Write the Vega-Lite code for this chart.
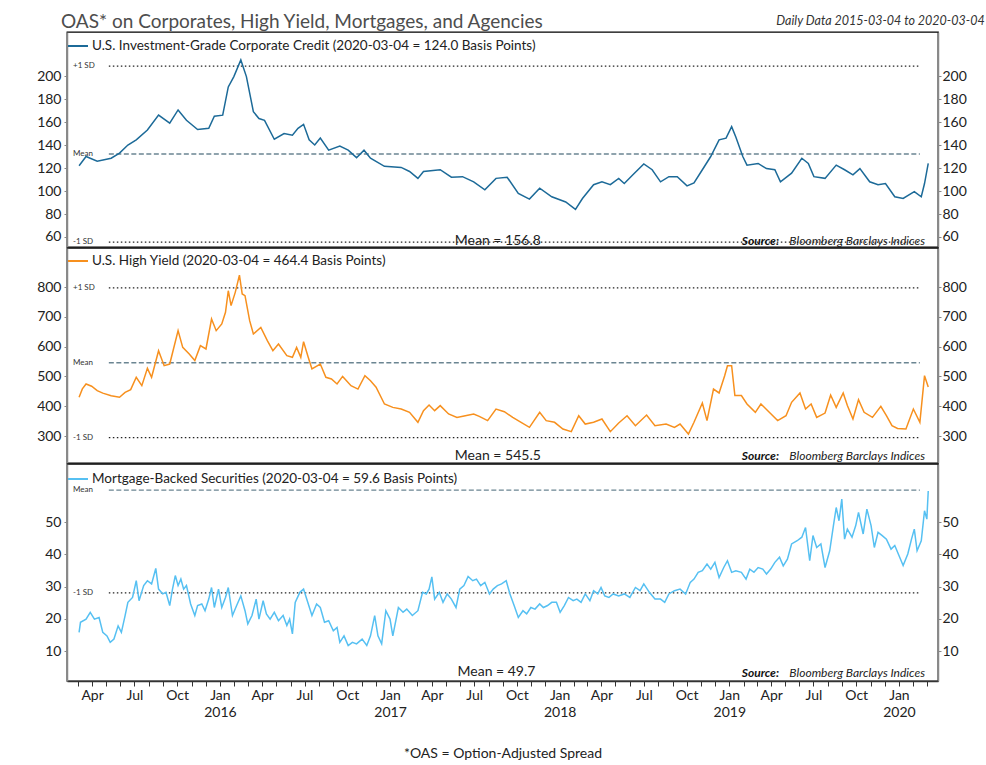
{
"$schema": "https://vega.github.io/schema/vega-lite/v6.json",
"background": "white",
"padding": {"left": 14, "top": 12, "right": 4, "bottom": 2},
"title": {"text": "Daily Data 2015-03-04 to 2020-03-04", "anchor": "end", "fontStyle": "italic", "fontSize": 12.5, "fontWeight": "normal", "font": "Lato", "color": "#333333", "offset": -15, "dx": 1},
"spacing": 1,
"bounds": "flush",
"resolve": {"scale": {"x": "independent", "y": "independent", "color": "independent"}, "legend": {"color": "independent"}},
"datasets": {
"ig": [{"date":"2015-03-04","value":122},{"date":"2015-03-19","value":130},{"date":"2015-04-12","value":126},{"date":"2015-05-12","value":128.5},{"date":"2015-05-30","value":133},{"date":"2015-06-17","value":140},{"date":"2015-07-05","value":144.5},{"date":"2015-07-29","value":153},{"date":"2015-08-22","value":166},{"date":"2015-09-15","value":159},{"date":"2015-10-03","value":170.5},{"date":"2015-10-21","value":161.5},{"date":"2015-11-14","value":153.5},{"date":"2015-12-08","value":154.5},{"date":"2015-12-20","value":165},{"date":"2016-01-07","value":166},{"date":"2016-01-19","value":190.5},{"date":"2016-01-31","value":199.5},{"date":"2016-02-15","value":214},{"date":"2016-02-27","value":199.5},{"date":"2016-03-13","value":169},{"date":"2016-03-25","value":163},{"date":"2016-04-06","value":161.5},{"date":"2016-04-27","value":145},{"date":"2016-05-18","value":150},{"date":"2016-06-05","value":148.5},{"date":"2016-06-17","value":154.5},{"date":"2016-06-29","value":158},{"date":"2016-07-11","value":144.5},{"date":"2016-07-23","value":140},{"date":"2016-08-04","value":146},{"date":"2016-08-22","value":135.5},{"date":"2016-09-15","value":139},{"date":"2016-10-03","value":135.5},{"date":"2016-10-21","value":129},{"date":"2016-11-06","value":135.5},{"date":"2016-11-20","value":128.5},{"date":"2016-12-20","value":121.5},{"date":"2017-01-25","value":120.5},{"date":"2017-02-12","value":117},{"date":"2017-03-02","value":111},{"date":"2017-03-14","value":117},{"date":"2017-04-19","value":118.5},{"date":"2017-05-13","value":112},{"date":"2017-06-06","value":112.5},{"date":"2017-06-30","value":108},{"date":"2017-07-24","value":101},{"date":"2017-08-17","value":111},{"date":"2017-09-10","value":112},{"date":"2017-10-04","value":98},{"date":"2017-10-28","value":93},{"date":"2017-11-19","value":102.5},{"date":"2017-12-15","value":95},{"date":"2018-01-14","value":90.5},{"date":"2018-02-04","value":84},{"date":"2018-02-19","value":93.5},{"date":"2018-03-15","value":105.5},{"date":"2018-04-02","value":108},{"date":"2018-04-20","value":105.5},{"date":"2018-05-08","value":111},{"date":"2018-05-20","value":106.5},{"date":"2018-06-07","value":114},{"date":"2018-07-01","value":123.5},{"date":"2018-07-19","value":118.5},{"date":"2018-08-06","value":108},{"date":"2018-08-24","value":112.5},{"date":"2018-09-11","value":112.5},{"date":"2018-10-02","value":104.5},{"date":"2018-10-17","value":107},{"date":"2018-11-04","value":118.5},{"date":"2018-11-22","value":130},{"date":"2018-12-10","value":144.5},{"date":"2018-12-25","value":146},{"date":"2019-01-06","value":156},{"date":"2019-01-15","value":147},{"date":"2019-01-30","value":130},{"date":"2019-02-08","value":122.5},{"date":"2019-03-04","value":124},{"date":"2019-03-22","value":119.5},{"date":"2019-04-09","value":118.5},{"date":"2019-04-21","value":108},{"date":"2019-05-15","value":115.5},{"date":"2019-06-06","value":128.5},{"date":"2019-06-20","value":124},{"date":"2019-07-02","value":112.5},{"date":"2019-07-26","value":111},{"date":"2019-08-19","value":122.5},{"date":"2019-09-06","value":118.5},{"date":"2019-09-24","value":114},{"date":"2019-10-09","value":119.5},{"date":"2019-10-30","value":108},{"date":"2019-11-17","value":105.5},{"date":"2019-12-03","value":106.5},{"date":"2019-12-23","value":95},{"date":"2020-01-10","value":93.5},{"date":"2020-02-03","value":99.5},{"date":"2020-02-18","value":95},{"date":"2020-02-25","value":106.5},{"date":"2020-03-04","value":124}],
"hy": [{"date":"2015-03-04","value":430},{"date":"2015-03-11","value":458},{"date":"2015-03-19","value":474.5},{"date":"2015-03-31","value":467},{"date":"2015-04-12","value":452},{"date":"2015-04-24","value":444},{"date":"2015-05-12","value":435},{"date":"2015-05-30","value":430},{"date":"2015-06-11","value":446.5},{"date":"2015-06-23","value":455.5},{"date":"2015-07-05","value":497},{"date":"2015-07-17","value":469},{"date":"2015-07-29","value":527},{"date":"2015-08-07","value":497},{"date":"2015-08-22","value":586},{"date":"2015-09-03","value":536},{"date":"2015-09-15","value":541.5},{"date":"2015-10-03","value":653.5},{"date":"2015-10-13","value":597.5},{"date":"2015-10-27","value":575},{"date":"2015-11-08","value":553},{"date":"2015-11-20","value":603},{"date":"2015-12-02","value":592},{"date":"2015-12-14","value":692.5},{"date":"2015-12-24","value":653.5},{"date":"2016-01-05","value":676},{"date":"2016-01-13","value":715},{"date":"2016-01-19","value":787.5},{"date":"2016-01-25","value":737.5},{"date":"2016-02-03","value":782},{"date":"2016-02-12","value":840},{"date":"2016-02-18","value":776.5},{"date":"2016-02-24","value":771},{"date":"2016-03-05","value":687},{"date":"2016-03-13","value":642.5},{"date":"2016-03-29","value":664.5},{"date":"2016-04-12","value":620},{"date":"2016-04-24","value":586.5},{"date":"2016-05-06","value":608.5},{"date":"2016-05-24","value":569.5},{"date":"2016-06-05","value":564},{"date":"2016-06-14","value":597.5},{"date":"2016-06-23","value":564},{"date":"2016-06-29","value":616.5},{"date":"2016-07-09","value":564},{"date":"2016-07-17","value":525},{"date":"2016-08-04","value":541.5},{"date":"2016-08-16","value":497},{"date":"2016-08-28","value":491.5},{"date":"2016-09-09","value":474.5},{"date":"2016-09-21","value":500},{"date":"2016-10-09","value":469},{"date":"2016-10-24","value":457.5},{"date":"2016-11-08","value":502.5},{"date":"2016-11-20","value":485.5},{"date":"2016-12-02","value":463.5},{"date":"2016-12-20","value":407.5},{"date":"2017-01-07","value":396},{"date":"2017-01-25","value":390.5},{"date":"2017-02-12","value":379.5},{"date":"2017-03-02","value":346},{"date":"2017-03-14","value":385},{"date":"2017-03-26","value":404},{"date":"2017-04-07","value":385},{"date":"2017-04-19","value":402},{"date":"2017-05-07","value":374},{"date":"2017-05-25","value":362.5},{"date":"2017-06-12","value":368},{"date":"2017-06-30","value":374},{"date":"2017-07-12","value":366},{"date":"2017-07-30","value":351.5},{"date":"2017-08-17","value":390.5},{"date":"2017-09-04","value":381.5},{"date":"2017-09-22","value":362.5},{"date":"2017-10-10","value":346},{"date":"2017-10-28","value":329},{"date":"2017-11-19","value":379.5},{"date":"2017-12-03","value":351.5},{"date":"2017-12-21","value":346},{"date":"2018-01-08","value":323.5},{"date":"2018-01-26","value":314.5},{"date":"2018-02-11","value":368},{"date":"2018-02-25","value":340},{"date":"2018-03-15","value":346},{"date":"2018-04-02","value":357},{"date":"2018-04-20","value":314.5},{"date":"2018-05-08","value":343.5},{"date":"2018-05-26","value":368},{"date":"2018-06-13","value":334.5},{"date":"2018-07-07","value":370.5},{"date":"2018-07-25","value":334.5},{"date":"2018-08-18","value":340},{"date":"2018-09-05","value":329},{"date":"2018-09-17","value":340},{"date":"2018-10-05","value":306.5},{"date":"2018-10-17","value":346},{"date":"2018-11-04","value":410.5},{"date":"2018-11-14","value":351.5},{"date":"2018-11-28","value":457.5},{"date":"2018-12-10","value":444.5},{"date":"2018-12-22","value":502.5},{"date":"2018-12-28","value":536},{"date":"2019-01-06","value":536},{"date":"2019-01-13","value":435.5},{"date":"2019-01-27","value":435.5},{"date":"2019-02-08","value":407.5},{"date":"2019-02-26","value":379.5},{"date":"2019-03-10","value":407.5},{"date":"2019-03-28","value":379.5},{"date":"2019-04-15","value":351.5},{"date":"2019-05-03","value":368},{"date":"2019-05-15","value":413},{"date":"2019-06-02","value":444.5},{"date":"2019-06-14","value":390.5},{"date":"2019-06-26","value":407.5},{"date":"2019-07-08","value":362.5},{"date":"2019-07-26","value":377},{"date":"2019-08-07","value":437.5},{"date":"2019-08-19","value":396},{"date":"2019-09-03","value":444.5},{"date":"2019-09-12","value":402},{"date":"2019-09-24","value":357},{"date":"2019-10-06","value":422},{"date":"2019-10-18","value":379.5},{"date":"2019-11-05","value":362.5},{"date":"2019-11-23","value":399.5},{"date":"2019-12-05","value":368},{"date":"2019-12-17","value":334.5},{"date":"2019-12-29","value":325.5},{"date":"2020-01-16","value":323.5},{"date":"2020-02-01","value":390.5},{"date":"2020-02-15","value":346},{"date":"2020-02-25","value":502.5},{"date":"2020-03-04","value":464.4}],
"mbs": [{"date":"2015-03-04","value":15.8},{"date":"2015-03-07","value":18.9},{"date":"2015-03-19","value":19.9},{"date":"2015-03-28","value":22},{"date":"2015-04-06","value":19.9},{"date":"2015-04-16","value":20.4},{"date":"2015-04-24","value":15.8},{"date":"2015-05-03","value":14.7},{"date":"2015-05-10","value":12.7},{"date":"2015-05-18","value":13.7},{"date":"2015-05-27","value":17.8},{"date":"2015-06-03","value":15.8},{"date":"2015-06-11","value":21},{"date":"2015-06-17","value":25.1},{"date":"2015-06-27","value":26.6},{"date":"2015-07-05","value":31.8},{"date":"2015-07-11","value":25.6},{"date":"2015-07-21","value":30.3},{"date":"2015-07-29","value":31.8},{"date":"2015-08-07","value":30.8},{"date":"2015-08-16","value":35.6},{"date":"2015-08-22","value":29.2},{"date":"2015-08-31","value":27.7},{"date":"2015-09-07","value":28.2},{"date":"2015-09-15","value":24.1},{"date":"2015-09-21","value":29.2},{"date":"2015-09-27","value":33.4},{"date":"2015-10-03","value":30.3},{"date":"2015-10-09","value":32.3},{"date":"2015-10-15","value":29.2},{"date":"2015-10-21","value":30.3},{"date":"2015-10-30","value":24.6},{"date":"2015-11-08","value":21},{"date":"2015-11-14","value":24.1},{"date":"2015-11-23","value":24.6},{"date":"2015-11-30","value":22.5},{"date":"2015-12-08","value":26.1},{"date":"2015-12-14","value":29.7},{"date":"2015-12-20","value":23.5},{"date":"2015-12-29","value":29.2},{"date":"2016-01-05","value":23.5},{"date":"2016-01-13","value":26.6},{"date":"2016-01-19","value":29.7},{"date":"2016-01-28","value":21},{"date":"2016-02-06","value":24.1},{"date":"2016-02-15","value":27.1},{"date":"2016-02-24","value":22.5},{"date":"2016-03-01","value":18.4},{"date":"2016-03-10","value":21},{"date":"2016-03-19","value":26.1},{"date":"2016-03-25","value":19.9},{"date":"2016-04-03","value":25.6},{"date":"2016-04-10","value":21.5},{"date":"2016-04-18","value":19.9},{"date":"2016-04-27","value":22},{"date":"2016-05-06","value":19.4},{"date":"2016-05-16","value":21},{"date":"2016-05-24","value":17.9},{"date":"2016-05-30","value":19.9},{"date":"2016-06-05","value":15.3},{"date":"2016-06-11","value":25.1},{"date":"2016-06-21","value":28.2},{"date":"2016-06-29","value":29.2},{"date":"2016-07-08","value":25.1},{"date":"2016-07-17","value":21},{"date":"2016-07-27","value":24.6},{"date":"2016-08-04","value":23.5},{"date":"2016-08-13","value":18.9},{"date":"2016-08-22","value":19.4},{"date":"2016-09-01","value":16.3},{"date":"2016-09-09","value":17.3},{"date":"2016-09-15","value":12.7},{"date":"2016-09-24","value":14.7},{"date":"2016-10-03","value":11.7},{"date":"2016-10-12","value":12.7},{"date":"2016-10-21","value":12.2},{"date":"2016-11-02","value":13.7},{"date":"2016-11-12","value":11.7},{"date":"2016-11-20","value":14.7},{"date":"2016-11-29","value":21},{"date":"2016-12-06","value":14.7},{"date":"2016-12-14","value":12.2},{"date":"2016-12-23","value":22.5},{"date":"2017-01-01","value":19.9},{"date":"2017-01-07","value":14.7},{"date":"2017-01-19","value":23.5},{"date":"2017-01-29","value":22},{"date":"2017-02-06","value":23},{"date":"2017-02-18","value":21},{"date":"2017-03-02","value":22.5},{"date":"2017-03-12","value":28.2},{"date":"2017-03-20","value":27.7},{"date":"2017-03-26","value":29.2},{"date":"2017-04-01","value":33},{"date":"2017-04-07","value":26.1},{"date":"2017-04-17","value":28.2},{"date":"2017-04-25","value":25.1},{"date":"2017-05-04","value":27.7},{"date":"2017-05-13","value":26.1},{"date":"2017-05-23","value":23.5},{"date":"2017-05-31","value":29.2},{"date":"2017-06-09","value":30.3},{"date":"2017-06-18","value":33.1},{"date":"2017-06-28","value":31.8},{"date":"2017-07-06","value":32.3},{"date":"2017-07-15","value":30.3},{"date":"2017-07-24","value":31.3},{"date":"2017-08-03","value":27.7},{"date":"2017-08-11","value":29.2},{"date":"2017-08-20","value":30.3},{"date":"2017-08-29","value":30.8},{"date":"2017-09-08","value":31.8},{"date":"2017-09-16","value":27.7},{"date":"2017-09-25","value":24.1},{"date":"2017-10-04","value":20.4},{"date":"2017-10-14","value":22.5},{"date":"2017-10-22","value":21.5},{"date":"2017-10-31","value":23.5},{"date":"2017-11-09","value":23},{"date":"2017-11-19","value":24.6},{"date":"2017-11-27","value":23.5},{"date":"2017-12-06","value":24.1},{"date":"2017-12-15","value":25.1},{"date":"2017-12-25","value":25.1},{"date":"2018-01-02","value":22},{"date":"2018-01-11","value":24.1},{"date":"2018-01-20","value":26.6},{"date":"2018-01-30","value":25.6},{"date":"2018-02-07","value":26.1},{"date":"2018-02-16","value":25.1},{"date":"2018-02-25","value":27.7},{"date":"2018-03-07","value":25.6},{"date":"2018-03-15","value":28.7},{"date":"2018-03-24","value":27.7},{"date":"2018-03-31","value":29.7},{"date":"2018-04-08","value":27.1},{"date":"2018-04-17","value":26.6},{"date":"2018-04-26","value":27.7},{"date":"2018-05-08","value":27.1},{"date":"2018-05-20","value":27.7},{"date":"2018-06-01","value":26.6},{"date":"2018-06-13","value":29.7},{"date":"2018-06-23","value":28.7},{"date":"2018-07-01","value":30.8},{"date":"2018-07-13","value":28.2},{"date":"2018-07-25","value":26.1},{"date":"2018-08-06","value":26.1},{"date":"2018-08-15","value":25.1},{"date":"2018-08-24","value":27.7},{"date":"2018-09-05","value":28.7},{"date":"2018-09-17","value":29.2},{"date":"2018-09-29","value":27.7},{"date":"2018-10-09","value":31.3},{"date":"2018-10-17","value":32.3},{"date":"2018-10-26","value":34.4},{"date":"2018-11-04","value":34.9},{"date":"2018-11-14","value":37},{"date":"2018-11-22","value":35.4},{"date":"2018-12-01","value":37.5},{"date":"2018-12-10","value":32.8},{"date":"2018-12-20","value":35.9},{"date":"2018-12-28","value":38},{"date":"2019-01-06","value":34.4},{"date":"2019-01-15","value":34.9},{"date":"2019-01-27","value":34.4},{"date":"2019-02-06","value":32.3},{"date":"2019-02-14","value":35.4},{"date":"2019-02-23","value":34.4},{"date":"2019-03-04","value":35.9},{"date":"2019-03-14","value":35.4},{"date":"2019-03-22","value":33.9},{"date":"2019-03-31","value":35.4},{"date":"2019-04-09","value":37.5},{"date":"2019-04-19","value":39.1},{"date":"2019-04-27","value":36.4},{"date":"2019-05-06","value":38.5},{"date":"2019-05-15","value":43.2},{"date":"2019-05-27","value":44.2},{"date":"2019-06-06","value":45.3},{"date":"2019-06-14","value":48.3},{"date":"2019-06-23","value":38},{"date":"2019-06-30","value":45.8},{"date":"2019-07-08","value":42.1},{"date":"2019-07-17","value":43.2},{"date":"2019-07-26","value":35.9},{"date":"2019-08-05","value":41.1},{"date":"2019-08-13","value":48.9},{"date":"2019-08-19","value":54.5},{"date":"2019-08-25","value":50.4},{"date":"2019-08-31","value":57.1},{"date":"2019-09-06","value":44.7},{"date":"2019-09-12","value":47.8},{"date":"2019-09-22","value":45.3},{"date":"2019-09-30","value":48.9},{"date":"2019-10-06","value":53},{"date":"2019-10-16","value":46.3},{"date":"2019-10-24","value":54},{"date":"2019-11-02","value":48.9},{"date":"2019-11-09","value":42.1},{"date":"2019-11-17","value":46.8},{"date":"2019-11-26","value":45.8},{"date":"2019-12-05","value":44.7},{"date":"2019-12-15","value":41.6},{"date":"2019-12-23","value":42.7},{"date":"2020-01-01","value":39.6},{"date":"2020-01-10","value":36.5},{"date":"2020-01-20","value":40.1},{"date":"2020-01-28","value":44.7},{"date":"2020-02-03","value":47.8},{"date":"2020-02-09","value":41.1},{"date":"2020-02-18","value":44.2},{"date":"2020-02-25","value":53.5},{"date":"2020-03-01","value":50.9},{"date":"2020-03-04","value":59.6}],
"ig_refs": [{"label":"+1 SD","value":208.7,"kind":"sd"},{"label":"Mean","value":132.2,"kind":"mean"},{"label":"-1 SD","value":55.6,"kind":"sd"}],
"hy_refs": [{"label":"+1 SD","value":797,"kind":"sd"},{"label":"Mean","value":546,"kind":"mean"},{"label":"-1 SD","value":294.5,"kind":"sd"}],
"mbs_refs": [{"label":"Mean","value":59.9,"kind":"mean"},{"label":"-1 SD","value":28,"kind":"sd"}]
},
"vconcat": [
{
"width": 871, "height": 215,
"title": {"text": "OAS* on Corporates, High Yield, Mortgages, and Agencies", "anchor": "start", "frame": "group", "fontSize": 19, "font": "Lato", "fontWeight": "normal", "color": "#4d4d4d", "offset": 0, "dx": -6},
"layer": [
{"layer": [
{"data": {"name": "ig_refs"}, "transform": [{"filter": "datum.kind == 'sd'"}], "mark": {"type": "rule", "color": "#222222", "strokeWidth": 1.2, "strokeDash": [1.5, 2.5]}, "encoding": {"x": {"datum": {"year": 2015, "month": 5, "date": 7}, "type": "temporal", "scale": {"domain": [{"year": 2015, "month": 2, "date": 6}, {"year": 2020, "month": 3, "date": 25}]}, "axis": null}, "x2": {"datum": {"year": 2020, "month": 2, "date": 15}}, "y": {"field": "value", "type": "quantitative", "scale": {"domain": [51.3, 238.3], "nice": false, "zero": false}, "axis": {"orient": "left", "title": null, "values": [60, 80, 100, 120, 140, 160, 180, 200], "tickSize": 3, "labelPadding": 3, "labelOverlap": false, "minExtent": 52, "maxExtent": 52}}}},
{"data": {"name": "ig_refs"}, "transform": [{"filter": "datum.kind == 'mean'"}], "mark": {"type": "rule", "color": "#6b8592", "strokeWidth": 1.4, "strokeDash": [5, 2.5]}, "encoding": {"x": {"datum": {"year": 2015, "month": 5, "date": 7}, "type": "temporal", "scale": {"domain": [{"year": 2015, "month": 2, "date": 6}, {"year": 2020, "month": 3, "date": 25}]}, "axis": null}, "x2": {"datum": {"year": 2020, "month": 2, "date": 15}}, "y": {"field": "value", "type": "quantitative", "scale": {"domain": [51.3, 238.3], "nice": false, "zero": false}, "axis": {"orient": "left", "title": null, "values": [60, 80, 100, 120, 140, 160, 180, 200], "tickSize": 3, "labelPadding": 3, "labelOverlap": false, "minExtent": 52, "maxExtent": 52}}}},
{"data": {"name": "ig_refs"}, "mark": {"type": "text", "align": "left", "baseline": "middle", "fontSize": 8, "font": "Lato", "color": "#333333"}, "encoding": {"x": {"datum": {"year": 2015, "month": 2, "date": 19}, "type": "temporal", "scale": {"domain": [{"year": 2015, "month": 2, "date": 6}, {"year": 2020, "month": 3, "date": 25}]}, "axis": null}, "y": {"field": "value", "type": "quantitative", "scale": {"domain": [51.3, 238.3], "nice": false, "zero": false}, "axis": {"orient": "left", "title": null, "values": [60, 80, 100, 120, 140, 160, 180, 200], "tickSize": 3, "labelPadding": 3, "labelOverlap": false, "minExtent": 52, "maxExtent": 52}}, "text": {"field": "label"}}},
{"data": {"values": [{"note": "Mean = 156.8"}]}, "mark": {"type": "text", "align": "center", "baseline": "middle", "fontSize": 14, "font": "Lato", "color": "#222222"}, "encoding": {"x": {"datum": {"year": 2017, "month": 8, "date": 21}, "type": "temporal", "scale": {"domain": [{"year": 2015, "month": 2, "date": 6}, {"year": 2020, "month": 3, "date": 25}]}, "axis": null}, "y": {"datum": 56.5, "type": "quantitative", "scale": {"domain": [51.3, 238.3], "nice": false, "zero": false}, "axis": {"orient": "left", "title": null, "values": [60, 80, 100, 120, 140, 160, 180, 200], "tickSize": 3, "labelPadding": 3, "labelOverlap": false, "minExtent": 52, "maxExtent": 52}}, "text": {"field": "note"}}},
{"data": {"values": [{"note": "Source:"}]}, "mark": {"type": "text", "align": "right", "baseline": "middle", "fontSize": 12, "font": "Lato", "fontStyle": "italic", "fontWeight": "bold", "color": "#111111"}, "encoding": {"x": {"datum": {"year": 2019, "month": 4, "date": 18}, "type": "temporal", "scale": {"domain": [{"year": 2015, "month": 2, "date": 6}, {"year": 2020, "month": 3, "date": 25}]}, "axis": null}, "y": {"datum": 56.5, "type": "quantitative", "scale": {"domain": [51.3, 238.3], "nice": false, "zero": false}, "axis": {"orient": "left", "title": null, "values": [60, 80, 100, 120, 140, 160, 180, 200], "tickSize": 3, "labelPadding": 3, "labelOverlap": false, "minExtent": 52, "maxExtent": 52}}, "text": {"field": "note"}}},
{"data": {"values": [{"note": "Bloomberg Barclays Indices"}]}, "mark": {"type": "text", "align": "right", "baseline": "middle", "fontSize": 12, "font": "Lato", "fontStyle": "italic", "color": "#222222"}, "encoding": {"x": {"datum": {"year": 2020, "month": 2, "date": 26}, "type": "temporal", "scale": {"domain": [{"year": 2015, "month": 2, "date": 6}, {"year": 2020, "month": 3, "date": 25}]}, "axis": null}, "y": {"datum": 56.5, "type": "quantitative", "scale": {"domain": [51.3, 238.3], "nice": false, "zero": false}, "axis": {"orient": "left", "title": null, "values": [60, 80, 100, 120, 140, 160, 180, 200], "tickSize": 3, "labelPadding": 3, "labelOverlap": false, "minExtent": 52, "maxExtent": 52}}, "text": {"field": "note"}}}
]},
{"data": {"name": "ig"}, "mark": {"type": "line", "strokeWidth": 1.5}, "encoding": {"x": {"field": "date", "type": "temporal", "scale": {"domain": [{"year": 2015, "month": 2, "date": 6}, {"year": 2020, "month": 3, "date": 25}]}, "axis": null}, "y": {"field": "value", "type": "quantitative", "scale": {"domain": [51.3, 238.3], "nice": false, "zero": false}, "axis": {"orient": "right", "title": null, "values": [60, 80, 100, 120, 140, 160, 180, 200], "tickSize": 3, "labelPadding": 1, "labelOverlap": false, "minExtent": 45, "maxExtent": 45}}, "color": {"datum": "U.S. Investment-Grade Corporate Credit (2020-03-04 = 124.0 Basis Points)", "type": "nominal", "scale": {"range": ["#1c6a98"]}, "legend": {"orient": "none", "legendX": 0, "legendY": 3, "title": null, "padding": 0, "symbolType": "stroke", "symbolSize": 400, "symbolStrokeWidth": 2, "labelFontSize": 13.5, "labelFont": "Lato", "labelColor": "#222222", "labelLimit": 800, "labelOffset": 3}}}}
],
"resolve": {"scale": {"y": "independent"}}
},
{
"width": 871, "height": 215,
"layer": [
{"layer": [
{"data": {"name": "hy_refs"}, "transform": [{"filter": "datum.kind == 'sd'"}], "mark": {"type": "rule", "color": "#222222", "strokeWidth": 1.2, "strokeDash": [1.5, 2.5]}, "encoding": {"x": {"datum": {"year": 2015, "month": 5, "date": 7}, "type": "temporal", "scale": {"domain": [{"year": 2015, "month": 2, "date": 6}, {"year": 2020, "month": 3, "date": 25}]}, "axis": null}, "x2": {"datum": {"year": 2020, "month": 2, "date": 15}}, "y": {"field": "value", "type": "quantitative", "scale": {"domain": [209.4, 930.9], "nice": false, "zero": false}, "axis": {"orient": "left", "title": null, "values": [300, 400, 500, 600, 700, 800], "tickSize": 3, "labelPadding": 3, "labelOverlap": false, "minExtent": 52, "maxExtent": 52}}}},
{"data": {"name": "hy_refs"}, "transform": [{"filter": "datum.kind == 'mean'"}], "mark": {"type": "rule", "color": "#6b8592", "strokeWidth": 1.4, "strokeDash": [5, 2.5]}, "encoding": {"x": {"datum": {"year": 2015, "month": 5, "date": 7}, "type": "temporal", "scale": {"domain": [{"year": 2015, "month": 2, "date": 6}, {"year": 2020, "month": 3, "date": 25}]}, "axis": null}, "x2": {"datum": {"year": 2020, "month": 2, "date": 15}}, "y": {"field": "value", "type": "quantitative", "scale": {"domain": [209.4, 930.9], "nice": false, "zero": false}, "axis": {"orient": "left", "title": null, "values": [300, 400, 500, 600, 700, 800], "tickSize": 3, "labelPadding": 3, "labelOverlap": false, "minExtent": 52, "maxExtent": 52}}}},
{"data": {"name": "hy_refs"}, "mark": {"type": "text", "align": "left", "baseline": "middle", "fontSize": 8, "font": "Lato", "color": "#333333"}, "encoding": {"x": {"datum": {"year": 2015, "month": 2, "date": 19}, "type": "temporal", "scale": {"domain": [{"year": 2015, "month": 2, "date": 6}, {"year": 2020, "month": 3, "date": 25}]}, "axis": null}, "y": {"field": "value", "type": "quantitative", "scale": {"domain": [209.4, 930.9], "nice": false, "zero": false}, "axis": {"orient": "left", "title": null, "values": [300, 400, 500, 600, 700, 800], "tickSize": 3, "labelPadding": 3, "labelOverlap": false, "minExtent": 52, "maxExtent": 52}}, "text": {"field": "label"}}},
{"data": {"values": [{"note": "Mean = 545.5"}]}, "mark": {"type": "text", "align": "center", "baseline": "middle", "fontSize": 14, "font": "Lato", "color": "#222222"}, "encoding": {"x": {"datum": {"year": 2017, "month": 8, "date": 21}, "type": "temporal", "scale": {"domain": [{"year": 2015, "month": 2, "date": 6}, {"year": 2020, "month": 3, "date": 25}]}, "axis": null}, "y": {"datum": 232.5, "type": "quantitative", "scale": {"domain": [209.4, 930.9], "nice": false, "zero": false}, "axis": {"orient": "left", "title": null, "values": [300, 400, 500, 600, 700, 800], "tickSize": 3, "labelPadding": 3, "labelOverlap": false, "minExtent": 52, "maxExtent": 52}}, "text": {"field": "note"}}},
{"data": {"values": [{"note": "Source:"}]}, "mark": {"type": "text", "align": "right", "baseline": "middle", "fontSize": 12, "font": "Lato", "fontStyle": "italic", "fontWeight": "bold", "color": "#111111"}, "encoding": {"x": {"datum": {"year": 2019, "month": 4, "date": 18}, "type": "temporal", "scale": {"domain": [{"year": 2015, "month": 2, "date": 6}, {"year": 2020, "month": 3, "date": 25}]}, "axis": null}, "y": {"datum": 232.5, "type": "quantitative", "scale": {"domain": [209.4, 930.9], "nice": false, "zero": false}, "axis": {"orient": "left", "title": null, "values": [300, 400, 500, 600, 700, 800], "tickSize": 3, "labelPadding": 3, "labelOverlap": false, "minExtent": 52, "maxExtent": 52}}, "text": {"field": "note"}}},
{"data": {"values": [{"note": "Bloomberg Barclays Indices"}]}, "mark": {"type": "text", "align": "right", "baseline": "middle", "fontSize": 12, "font": "Lato", "fontStyle": "italic", "color": "#222222"}, "encoding": {"x": {"datum": {"year": 2020, "month": 2, "date": 26}, "type": "temporal", "scale": {"domain": [{"year": 2015, "month": 2, "date": 6}, {"year": 2020, "month": 3, "date": 25}]}, "axis": null}, "y": {"datum": 232.5, "type": "quantitative", "scale": {"domain": [209.4, 930.9], "nice": false, "zero": false}, "axis": {"orient": "left", "title": null, "values": [300, 400, 500, 600, 700, 800], "tickSize": 3, "labelPadding": 3, "labelOverlap": false, "minExtent": 52, "maxExtent": 52}}, "text": {"field": "note"}}}
]},
{"data": {"name": "hy"}, "mark": {"type": "line", "strokeWidth": 1.5}, "encoding": {"x": {"field": "date", "type": "temporal", "scale": {"domain": [{"year": 2015, "month": 2, "date": 6}, {"year": 2020, "month": 3, "date": 25}]}, "axis": null}, "y": {"field": "value", "type": "quantitative", "scale": {"domain": [209.4, 930.9], "nice": false, "zero": false}, "axis": {"orient": "right", "title": null, "values": [300, 400, 500, 600, 700, 800], "tickSize": 3, "labelPadding": 1, "labelOverlap": false, "minExtent": 45, "maxExtent": 45}}, "color": {"datum": "U.S. High Yield (2020-03-04 = 464.4 Basis Points)", "type": "nominal", "scale": {"range": ["#f7901e"]}, "legend": {"orient": "none", "legendX": 0, "legendY": 2, "title": null, "padding": 0, "symbolType": "stroke", "symbolSize": 400, "symbolStrokeWidth": 2, "labelFontSize": 13.5, "labelFont": "Lato", "labelColor": "#222222", "labelLimit": 800, "labelOffset": 3}}}}
],
"resolve": {"scale": {"y": "independent"}}
},
{
"width": 871, "height": 217,
"layer": [
{"layer": [
{"data": {"name": "mbs_refs"}, "transform": [{"filter": "datum.kind == 'sd'"}], "mark": {"type": "rule", "color": "#222222", "strokeWidth": 1.2, "strokeDash": [1.5, 2.5]}, "encoding": {"x": {"datum": {"year": 2015, "month": 5, "date": 7}, "type": "temporal", "scale": {"domain": [{"year": 2015, "month": 2, "date": 6}, {"year": 2020, "month": 3, "date": 25}]}}, "x2": {"datum": {"year": 2020, "month": 2, "date": 15}}, "y": {"field": "value", "type": "quantitative", "scale": {"domain": [0.7, 68], "nice": false, "zero": false}, "axis": {"orient": "left", "title": null, "values": [10, 20, 30, 40, 50], "tickSize": 3, "labelPadding": 3, "labelOverlap": false, "minExtent": 52, "maxExtent": 52}}}},
{"data": {"name": "mbs_refs"}, "transform": [{"filter": "datum.kind == 'mean'"}], "mark": {"type": "rule", "color": "#6b8592", "strokeWidth": 1.4, "strokeDash": [5, 2.5]}, "encoding": {"x": {"datum": {"year": 2015, "month": 5, "date": 7}, "type": "temporal", "scale": {"domain": [{"year": 2015, "month": 2, "date": 6}, {"year": 2020, "month": 3, "date": 25}]}}, "x2": {"datum": {"year": 2020, "month": 2, "date": 15}}, "y": {"field": "value", "type": "quantitative", "scale": {"domain": [0.7, 68], "nice": false, "zero": false}, "axis": {"orient": "left", "title": null, "values": [10, 20, 30, 40, 50], "tickSize": 3, "labelPadding": 3, "labelOverlap": false, "minExtent": 52, "maxExtent": 52}}}},
{"data": {"name": "mbs_refs"}, "mark": {"type": "text", "align": "left", "baseline": "middle", "fontSize": 8, "font": "Lato", "color": "#333333"}, "encoding": {"x": {"datum": {"year": 2015, "month": 2, "date": 19}, "type": "temporal", "scale": {"domain": [{"year": 2015, "month": 2, "date": 6}, {"year": 2020, "month": 3, "date": 25}]}}, "y": {"field": "value", "type": "quantitative", "scale": {"domain": [0.7, 68], "nice": false, "zero": false}, "axis": {"orient": "left", "title": null, "values": [10, 20, 30, 40, 50], "tickSize": 3, "labelPadding": 3, "labelOverlap": false, "minExtent": 52, "maxExtent": 52}}, "text": {"field": "label"}}},
{"data": {"values": [{"note": "Mean = 49.7"}]}, "mark": {"type": "text", "align": "center", "baseline": "middle", "fontSize": 14, "font": "Lato", "color": "#222222"}, "encoding": {"x": {"datum": {"year": 2017, "month": 8, "date": 18}, "type": "temporal", "scale": {"domain": [{"year": 2015, "month": 2, "date": 6}, {"year": 2020, "month": 3, "date": 25}]}}, "y": {"datum": 3.4, "type": "quantitative", "scale": {"domain": [0.7, 68], "nice": false, "zero": false}, "axis": {"orient": "left", "title": null, "values": [10, 20, 30, 40, 50], "tickSize": 3, "labelPadding": 3, "labelOverlap": false, "minExtent": 52, "maxExtent": 52}}, "text": {"field": "note"}}},
{"data": {"values": [{"note": "Source:"}]}, "mark": {"type": "text", "align": "right", "baseline": "middle", "fontSize": 12, "font": "Lato", "fontStyle": "italic", "fontWeight": "bold", "color": "#111111"}, "encoding": {"x": {"datum": {"year": 2019, "month": 4, "date": 18}, "type": "temporal", "scale": {"domain": [{"year": 2015, "month": 2, "date": 6}, {"year": 2020, "month": 3, "date": 25}]}}, "y": {"datum": 3.2, "type": "quantitative", "scale": {"domain": [0.7, 68], "nice": false, "zero": false}, "axis": {"orient": "left", "title": null, "values": [10, 20, 30, 40, 50], "tickSize": 3, "labelPadding": 3, "labelOverlap": false, "minExtent": 52, "maxExtent": 52}}, "text": {"field": "note"}}},
{"data": {"values": [{"note": "Bloomberg Barclays Indices"}]}, "mark": {"type": "text", "align": "right", "baseline": "middle", "fontSize": 12, "font": "Lato", "fontStyle": "italic", "color": "#222222"}, "encoding": {"x": {"datum": {"year": 2020, "month": 2, "date": 26}, "type": "temporal", "scale": {"domain": [{"year": 2015, "month": 2, "date": 6}, {"year": 2020, "month": 3, "date": 25}]}}, "y": {"datum": 3.2, "type": "quantitative", "scale": {"domain": [0.7, 68], "nice": false, "zero": false}, "axis": {"orient": "left", "title": null, "values": [10, 20, 30, 40, 50], "tickSize": 3, "labelPadding": 3, "labelOverlap": false, "minExtent": 52, "maxExtent": 52}}, "text": {"field": "note"}}}
]},
{"data": {"name": "mbs"}, "mark": {"type": "line", "strokeWidth": 1.5}, "encoding": {"x": {"field": "date", "type": "temporal", "scale": {"domain": [{"year": 2015, "month": 2, "date": 6}, {"year": 2020, "month": 3, "date": 25}]}, "axis": {"orient": "bottom", "title": "*OAS = Option-Adjusted Spread", "tickCount": {"interval": "month", "step": 1}, "labelExpr": "month(datum.value) % 3 == 0 ? (month(datum.value) == 0 ? ['Jan', timeFormat(datum.value, '%Y')] : timeFormat(datum.value, '%b')) : ''", "labelOverlap": false, "labelFlush": false, "labelBound": false, "tickSize": 5, "labelPadding": 2, "labelLineHeight": 17, "labelFontSize": 14, "labelColor": "#222222", "domainColor": "#333333", "tickColor": "#333333", "titleFont": "Lato", "titleFontSize": 14, "titleFontWeight": "normal", "titleColor": "#222222", "titlePadding": 27}}, "y": {"field": "value", "type": "quantitative", "scale": {"domain": [0.7, 68], "nice": false, "zero": false}, "axis": {"orient": "right", "title": null, "values": [10, 20, 30, 40, 50], "tickSize": 3, "labelPadding": 1, "labelOverlap": false, "minExtent": 45, "maxExtent": 45}}, "color": {"datum": "Mortgage-Backed Securities (2020-03-04 = 59.6 Basis Points)", "type": "nominal", "scale": {"range": ["#56c0f2"]}, "legend": {"orient": "none", "legendX": 0, "legendY": 4, "title": null, "padding": 0, "symbolType": "stroke", "symbolSize": 400, "symbolStrokeWidth": 2, "labelFontSize": 13.5, "labelFont": "Lato", "labelColor": "#222222", "labelLimit": 800, "labelOffset": 3}}}}
],
"resolve": {"scale": {"y": "independent"}}
}
],
"config": {
"font": "Lato",
"view": {"stroke": "#000000", "strokeWidth": 1.3},
"axis": {"labelFont": "Lato", "labelFontSize": 14, "labelColor": "#222222", "domainColor": "#888888", "domainWidth": 1.5, "tickColor": "#888888", "grid": false, "labelOverlap": false}
}
}
